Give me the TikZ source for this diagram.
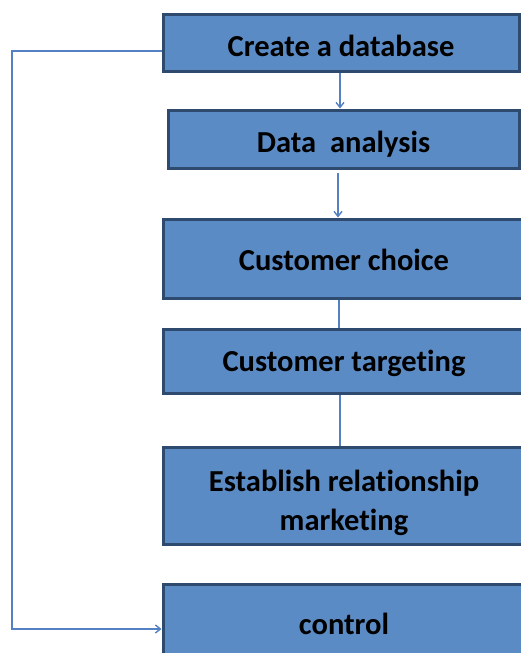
\documentclass[tikz,border=0pt]{standalone}
\usepackage{fontspec}
\setmainfont[Ligatures=NoCommon]{Carlito}
\usetikzlibrary{arrows.meta,calc}
\definecolor{boxfill}{RGB}{91,139,196}
\definecolor{boxline}{RGB}{46,74,110}
\definecolor{connblue}{RGB}{84,128,196}
\newcommand{\lowtext}[2]{\raisebox{-#1}[10pt][10pt]{#2}}
\tikzset{
  stepbox/.style={draw=boxline, line width=3pt, fill=boxfill, rectangle,
    inner sep=0pt, font=\fontsize{30.5}{38.5}\selectfont\bfseries, text=black, align=center},
  conn/.style={draw=connblue, line width=1.4pt},
  arr/.style={conn, -{Straight Barb[length=5pt,width=8pt]}}
}
\begin{document}
\begin{tikzpicture}[x=1pt,y=-1pt]
\useasboundingbox (0,0) rectangle (520,653);
\node[stepbox, minimum width=356pt, minimum height=57pt] (b1) at (341,42.5) {\lowtext{14pt}{Create a database}};
\node[stepbox, minimum width=351pt, minimum height=58pt] (b2) at (343.5,139) {\lowtext{13.2pt}{Data\ \ analysis}};
\node[stepbox, minimum width=362pt, minimum height=79pt] (b3) at (344,258.5) {\lowtext{11.8pt}{Customer choice}};
\node[stepbox, minimum width=362pt, minimum height=64pt] (b4) at (344,361) {\lowtext{10.5pt}{Customer targeting}};
\node[stepbox, minimum width=362pt, minimum height=97pt] (b5) at (344,496) {\lowtext{-4.2pt}{\begin{tabular}[t]{@{}c@{}}Establish relationship\\marketing\end{tabular}}};
\node[stepbox, minimum width=362pt, minimum height=76pt] (b6) at (344,622) {\lowtext{12.8pt}{control}};
\coordinate (fbtop) at (12,51);
\coordinate (fbbot) at (12,629);
\coordinate (a2s) at (338,173);
\draw[arr] ([xshift=-1pt]b1.south) -- ([xshift=-1pt]b1.south |- b2.north);
\draw[arr] (a2s) -- (a2s |- b3.north);
\draw[conn] ([xshift=-5pt]b3.south) -- ([xshift=-5pt]b3.south |- b4.north);
\draw[conn] ([xshift=-4pt]b4.south) -- ([xshift=-4pt]b4.south |- b5.north);
\draw[arr] (b1.west |- fbtop) -- (fbtop) -- (fbbot) -- (b6.west |- fbbot);
\end{tikzpicture}
\end{document}
